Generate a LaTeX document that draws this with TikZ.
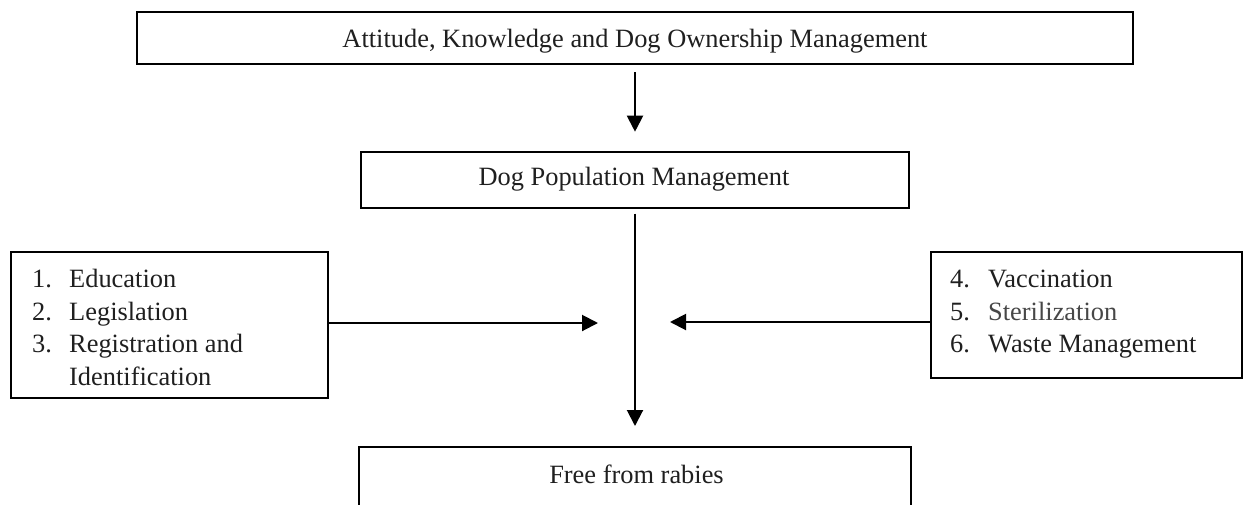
\documentclass[tikz,border=0pt]{standalone}
\usepackage{fontspec}
\setmainfont{Liberation Serif}
\usetikzlibrary{arrows.meta}
\begin{document}
\begin{tikzpicture}[x=1pt,y=-1pt,
  box/.style={draw, line width=2pt, inner sep=0pt},
  lbl/.style={font=\fontsize{26.4}{32.7}\selectfont, text=black!88, inner sep=0pt},
  arr/.style={line width=2pt, -{Triangle[length=16pt,width=16pt]}}]
\useasboundingbox (0,0) rectangle (1245,504);
\clip (0,0) rectangle (1245,504);
% boxes
\node[box, minimum width=996, minimum height=52.5] (top) at (635,37.8) {};
\node[box, minimum width=548, minimum height=56] (dpm) at (635,179.7) {};
\node[box, minimum width=552, minimum height=83] (free) at (635,488.5) {};
\node[box, minimum width=317, minimum height=146.3] (left) at (169.5,324.85) {};
\node[box, minimum width=311, minimum height=126.3] (right) at (1086.5,314.85) {};
% texts
\node[lbl, anchor=base] (toptext) at (635,47) {Attitude, Knowledge and Dog Ownership Management};
\node[lbl, anchor=base] (dpmtext) at (634,185) {Dog Population Management};
\node[lbl, anchor=base] (freetext) at (636.5,483) {Free from rabies};
% left list
\node[lbl, anchor=base west] (n1) at (32,287) {1.};
\node[lbl, anchor=base west] (t1) at (69,287) {Education};
\node[lbl, anchor=base west] (n2) at (32,320) {2.};
\node[lbl, anchor=base west] (t2) at (69,320) {Legislation};
\node[lbl, anchor=base west] (n3) at (32,352) {3.};
\node[lbl, anchor=base west] (t3) at (69,352) {Registration and};
\node[lbl, anchor=base west] (t3b) at (69,385) {Identification};
% right list
\node[lbl, anchor=base west] (n4) at (950,287) {4.};
\node[lbl, anchor=base west] (t4) at (988,287) {Vaccination};
\node[lbl, anchor=base west] (n5) at (950,320) {5.};
\node[lbl, anchor=base west, text=black!72] (t5) at (988,320) {Sterilization};
\node[lbl, anchor=base west] (n6) at (950,352) {6.};
\node[lbl, anchor=base west] (t6) at (988,352) {Waste Management};
% connectors
\draw[arr, shorten <=7pt, shorten >=19pt] (top) -- (dpm);
\draw[arr, shorten <=5pt, shorten >=20pt] (dpm) -- (free);
\coordinate (lt) at (598,323);
\coordinate (rt) at (670,322);
\draw[arr] (left.east |- lt) -- (lt);
\draw[arr] (right.west |- rt) -- (rt);
\end{tikzpicture}
\end{document}
